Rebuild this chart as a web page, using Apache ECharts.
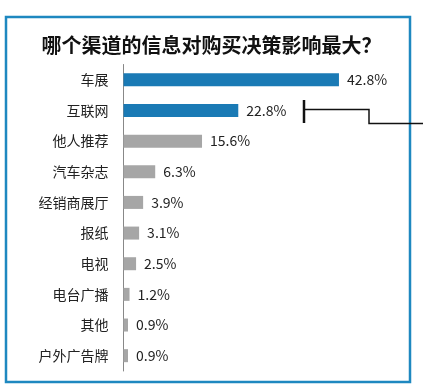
<!DOCTYPE html>
<html><head><meta charset="utf-8">
<script src="https://cdn.jsdelivr.net/npm/echarts@6/dist/echarts.min.js"></script>
<style>html,body{margin:0;padding:0;background:#fff}#c{width:423px;height:390px}</style>
</head><body><div id="c"></div>
<script>
var title = '哪个渠道的信息对购买决策影响最大？';
var categories = ['车展','互联网','他人推荐','汽车杂志','经销商展厅','报纸','电视','电台广播','其他','户外广告牌'];
var values = [42.8, 22.8, 15.6, 6.3, 3.9, 3.1, 2.5, 1.2, 0.9, 0.9];
var highlightCount = 2;

var font = '"Noto Sans CJK SC", "Noto Sans", sans-serif';
var chart = echarts.init(document.getElementById('c'));
chart.setOption({
  animation: false,
  backgroundColor: '#fff',
  title: {
    text: title, left: 'center', top: 30,
    textStyle: {fontFamily: font, fontSize: 20, fontWeight: 'bold', color: '#111'}
  },
  grid: {left: 123.5, top: 64.5, width: 251.7, height: 306.5, containLabel: false},
  xAxis: {type: 'value', min: 0, max: 50, show: false},
  yAxis: {
    type: 'category', inverse: true, data: categories,
    axisLine: {show: true, lineStyle: {color: '#888', width: 1}},
    axisTick: {show: false},
    axisLabel: {fontFamily: font, fontSize: 14, color: '#222', margin: 15}
  },
  series: [{
    type: 'bar', barWidth: 13,
    data: values.map(function (v, i) {
      return {value: v, itemStyle: {color: i < highlightCount ? '#1a7ab5' : '#a6a6a6'}};
    }),
    label: {show: true, position: 'right', distance: 8, fontFamily: font, fontSize: 14, color: '#222',
      formatter: function (p) { return p.value.toFixed(1) + '%'; }}
  }],
  graphic: [
    {type: 'rect', shape: {x: 6, y: 17, width: 404, height: 365}, style: {fill: 'none', stroke: '#1e88c0', lineWidth: 2.5}},
    {type: 'line', shape: {x1: 304, y1: 100, x2: 304, y2: 123}, style: {stroke: '#111', lineWidth: 2.5}},
    {type: 'polyline', shape: {points: [[304, 109.5], [369, 109.5], [369, 123.5], [423, 123.5]]}, style: {stroke: '#111', lineWidth: 1.5, fill: 'none'}}
  ]
});
</script></body></html>
